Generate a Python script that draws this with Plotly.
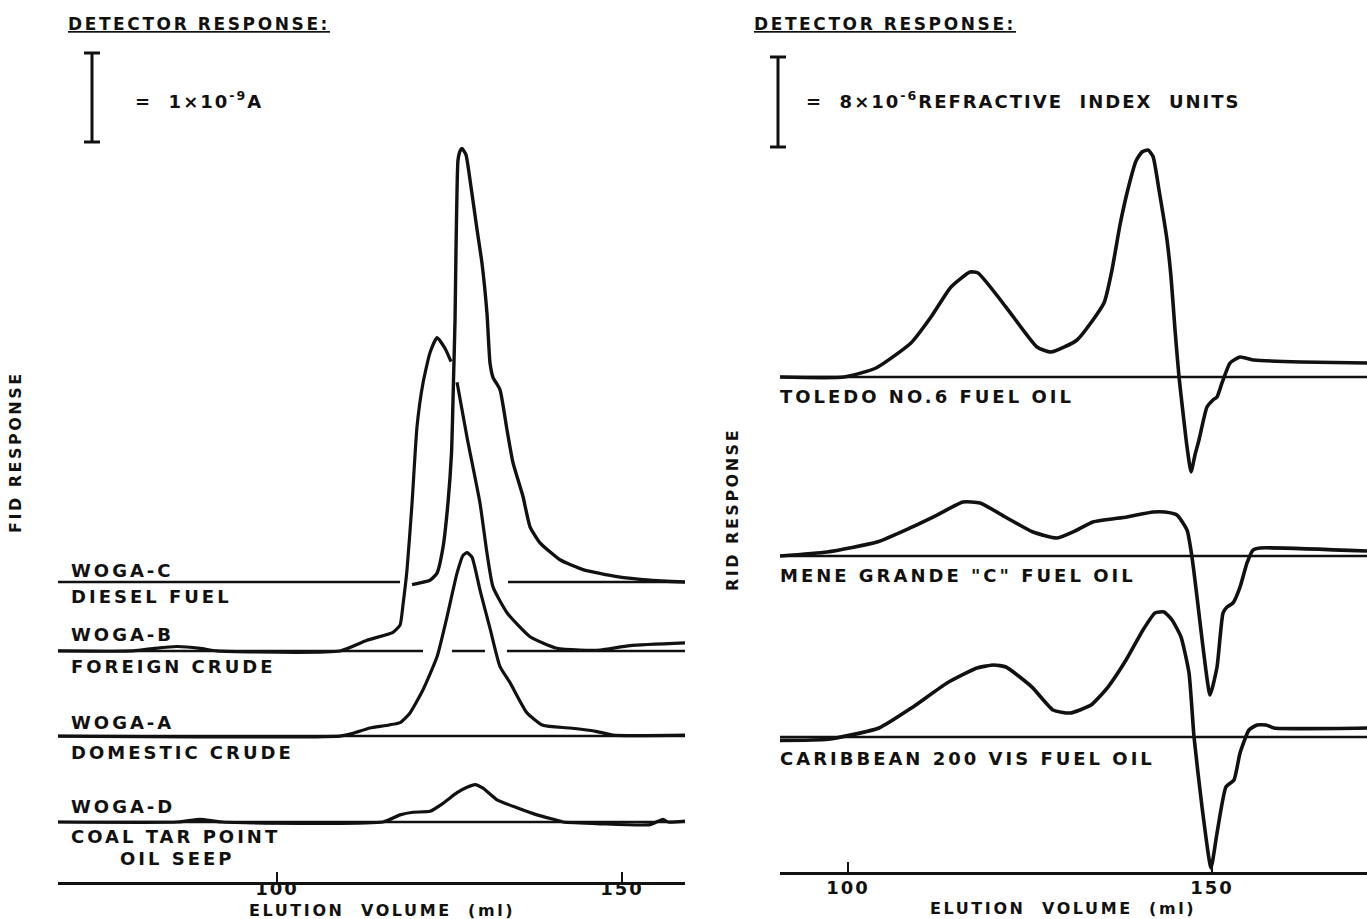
import plotly.graph_objects as go

# ---------------- DATA (elution volume in ml, detector response) ----------------
# Left panel: FID response in nA (1e-9 A) relative to each trace's baseline
WOGA_C_X = [119.57, 122.17, 123.19, 124.06, 124.78, 125.29, 125.58, 125.80, 125.94, 126.09, 126.23,
            126.52, 126.81, 127.39, 127.97, 128.99, 129.71, 130.43, 130.87, 131.30, 132.32, 133.33,
            134.20, 135.65, 136.67, 138.12, 141.01, 144.35, 149.28, 154.06, 159.13]
WOGA_C_Y = [-0.03, 0.02, 0.10, 0.39, 0.89, 1.45, 2.27, 2.94, 3.73, 4.40, 4.74,
            4.84, 4.87, 4.80, 4.52, 3.96, 3.58, 3.02, 2.46, 2.30, 2.16, 1.71,
            1.34, 0.96, 0.62, 0.44, 0.25, 0.14, 0.06, 0.02, 0.0]

WOGA_B_X = [68.26, 79.13, 82.32, 85.51, 88.84, 91.30, 109.13, 113.04, 116.81, 117.83, 118.26, 118.84,
            119.57, 120.29, 121.16, 122.17, 123.19, 124.35, 125.22, None,
            126.09, 127.54, 129.42, 130.43, 131.30, 133.33, 136.67, 140.58, 143.91, 146.81, 151.16, 159.13]
WOGA_B_Y = [0, 0, 0.03, 0.05, 0.03, 0, 0, 0.12, 0.21, 0.29, 0.52, 0.91,
            1.66, 2.52, 3.01, 3.35, 3.52, 3.40, 3.25, None,
            3.02, 2.40, 1.66, 1.10, 0.72, 0.43, 0.16, 0.03, 0.01, 0.01, 0.06, 0.09]

WOGA_A_X = [68.26, 109.13, 111.01, 113.48, 117.83, 119.28, 121.16, 123.19, 124.64, 126.09, 126.96,
            127.54, 128.26, 129.42, 130.87, 132.32, 133.77, 136.23, 138.55, 142.46, 146.38, 148.70, 159.13]
WOGA_A_Y = [0, 0, 0.03, 0.09, 0.15, 0.26, 0.52, 0.89, 1.34, 1.83, 2.03,
            2.06, 2.01, 1.64, 1.21, 0.78, 0.60, 0.26, 0.12, 0.09, 0.05, 0.01, 0.01]

WOGA_D_X = [68.26, 85.65, 88.84, 92.03, 115.36, 117.83, 119.71, 122.17, 124.06, 126.09, 127.54, 128.70,
            129.86, 131.88, 134.78, 137.68, 140.58, 141.45, 146.81, 154.06, 155.94, 156.67, 159.13]
WOGA_D_Y = [0, 0, 0.03, 0, 0, 0.08, 0.11, 0.12, 0.21, 0.33, 0.39, 0.42,
            0.38, 0.25, 0.16, 0.08, 0.02, 0, -0.02, -0.03, 0.03, 0, 0.01]

# Right panel: RID response in 1e-6 refractive index units relative to baseline
TOLEDO_X = [90.66, 99.45, 103.85, 108.65, 111.40, 114.15, 116.76, 117.86, 121.70, 125.96, 127.88,
            131.46, 135.16, 136.26, 137.36, 138.46, 139.56, 140.38, 141.21, 141.90, 142.72,
            143.82, 144.37, 144.92, 145.47, 146.02, 146.57, 147.12, 147.66, 148.21, 149.31, 150.14,
            150.69, 151.37, 152.47, 153.85, 155.77, 162.23, 171.29]
TOLEDO_Y = [0, 0, 0.80, 3.02, 5.33, 8.00, 9.33, 9.24, 6.22, 2.67, 2.22,
            3.29, 6.58, 9.51, 13.51, 16.71, 19.20, 20.00, 20.18, 19.60, 16.62,
            12.18, 8.89, 4.18, 0, -3.20, -6.22, -8.44, -6.93, -5.60, -2.67, -2.04,
            -1.78, -0.53, 1.24, 1.78, 1.51, 1.33, 1.24]

MENE_X = [90.66, 97.12, 103.98, 108.52, 112.23, 115.80, 118.13, 121.84, 125.41, 128.71, 131.46,
          133.65, 138.32, 141.90, 143.54, 145.19, 146.57, 147.25, 147.94, 148.76, 149.73, 150.69,
          151.51, 152.06, 152.88, 153.85, 154.81, 155.63, 156.59, 171.29]
MENE_Y = [0, 0.36, 1.24, 2.49, 3.64, 4.80, 4.71, 3.38, 2.13, 1.60, 2.31,
          3.02, 3.47, 3.91, 3.91, 3.64, 2.31, -0.09, -3.64, -8.09, -12.36, -9.87,
          -5.07, -4.53, -4.18, -2.76, -0.62, 0.53, 0.71, 0.44]

CARIB_X = [90.66, 97.25, 104.26, 108.93, 113.60, 117.72, 120.05, 121.70, 125.27, 128.16, 130.49,
           133.38, 135.71, 138.19, 140.52, 142.17, 143.41, 144.51, 145.74, 146.84, 147.53, 148.63,
           149.86, 150.69, 151.92, 153.02, 153.85, 155.08, 156.18, 157.42, 158.52, 171.29]
CARIB_Y = [-0.3, -0.2, 0.80, 2.67, 4.80, 6.13, 6.40, 6.22, 4.44, 2.40, 2.13,
           2.84, 4.44, 6.84, 9.51, 11.02, 11.11, 10.40, 8.89, 5.69, 0, -6.22,
           -11.64, -8.53, -4.44, -3.82, -1.42, 0.62, 1.07, 1.07, 0.80, 0.80]

# baseline segments (ml) drawn under each trace
LEFT_BASE_SEGS = {
    "C": [(68.26, 117.83), (133.48, 159.13)],
    "B": [(68.26, 121.16), (125.36, 130.14), (133.33, 159.13)],
    "A": [(68.26, 159.13)],
    "D": [(68.26, 159.13)],
}
RIGHT_BASE_SEG = (90.66, 171.29)

TICK_VALS = [100, 150]
TICK_TEXT = ["100", "150"]

SCALE_LEFT = 1.0    # 1 x 10^-9 A
SCALE_RIGHT = 8.0   # 8 x 10^-6 RIU

# ---------------- LAYOUT CONSTANTS ----------------
W, H = 1367, 919
FONT = "DejaVu Sans"
INK = "#111111"

# vertical stacking offsets of each trace's baseline (in response units)
OFF = {"C": 3.371, "B": 2.596, "A": 1.640, "D": 0.674}
ROFF = {"T": 44.0, "M": 28.09, "K": 12.0}


def sp(text, s=3, extra=""):
    return f'<span style="letter-spacing:{s}px;{extra}">{text}</span>'


fig = go.Figure()


def add_line(x, y, off, xa, ya, width=3.0):
    yy = [None if v is None else v + off for v in y]
    fig.add_trace(go.Scatter(x=x, y=yy, mode="lines", xaxis=xa, yaxis=ya,
                             line=dict(color=INK, width=width, shape="spline", smoothing=0.5),
                             connectgaps=False, hoverinfo="skip", showlegend=False))


def add_seg(x0, x1, off, xa, ya, width=2.6):
    fig.add_trace(go.Scatter(x=[x0, x1], y=[off, off], mode="lines", xaxis=xa, yaxis=ya,
                             line=dict(color=INK, width=width), hoverinfo="skip", showlegend=False))


# left baselines
for k, segs in LEFT_BASE_SEGS.items():
    for a, b in segs:
        add_seg(a, b, OFF[k], "x", "y")
# left traces
add_line(WOGA_C_X, WOGA_C_Y, OFF["C"], "x", "y", 3.4)
add_line(WOGA_B_X, WOGA_B_Y, OFF["B"], "x", "y", 3.2)
add_line(WOGA_A_X, WOGA_A_Y, OFF["A"], "x", "y", 3.2)
add_line(WOGA_D_X, WOGA_D_Y, OFF["D"], "x", "y", 3.2)

# right baselines
for k in ROFF:
    add_seg(RIGHT_BASE_SEG[0], RIGHT_BASE_SEG[1], ROFF[k], "x2", "y2")
add_line(TOLEDO_X, TOLEDO_Y, ROFF["T"], "x2", "y2", 3.6)
add_line(MENE_X, MENE_Y, ROFF["M"], "x2", "y2", 3.6)
add_line(CARIB_X, CARIB_Y, ROFF["K"], "x2", "y2", 3.6)


# pixel -> paper helpers for layout placement
def px(xp):
    return xp / W


def py(yp):
    return (H - yp) / H


def xax(standoff):
    return dict(showline=True, linecolor=INK, linewidth=3, ticks="inside", ticklen=10,
                tickwidth=2, tickcolor=INK, tickvals=TICK_VALS,
                ticktext=[sp(t, 2) for t in TICK_TEXT],
                tickfont=dict(family=FONT, size=18, color=INK, weight="bold"),
                ticklabelstandoff=standoff,
                showgrid=False, zeroline=False, fixedrange=True)


fig.update_layout(
    width=W, height=H, margin=dict(l=0, r=0, t=0, b=0),
    paper_bgcolor="white", plot_bgcolor="white", showlegend=False,
    xaxis=dict(domain=[px(58), px(685)], range=[68.26, 159.13], anchor="y", **xax(-12)),
    yaxis=dict(domain=[py(882), 1], range=[0, 882 / 89], visible=False, fixedrange=True),
    xaxis2=dict(domain=[px(780), 1], range=[90.66, 171.29], anchor="y2", **xax(-3)),
    yaxis2=dict(domain=[py(872), 1], range=[0, 872 / 11.25], visible=False, fixedrange=True),
)

ann = []


def A(text, x, y, xref="paper", yref="paper", xanchor="left", yshift=0, size=18, angle=0):
    ann.append(dict(text=text, x=x, y=y, xref=xref, yref=yref, xanchor=xanchor, yanchor="middle",
                    yshift=yshift, showarrow=False, textangle=angle,
                    font=dict(family=FONT, size=size, color=INK, weight="bold")))


# headers
A(sp("DETECTOR RESPONSE:", 2.6, "text-decoration:underline"), px(66), py(24), size=17)
A(sp("DETECTOR RESPONSE:", 2.6, "text-decoration:underline"), px(752), py(24), size=17)
A(sp("=&nbsp;&nbsp;1×10<sup>-9</sup>A", 2), px(133), py(100))
A(sp("=&nbsp;&nbsp;8×10<sup>-6</sup>REFRACTIVE&nbsp;&nbsp;INDEX&nbsp;&nbsp;UNITS", 2), px(804), py(100))

# y-axis titles
A(sp("FID RESPONSE", 2.5), px(16), py(452), xanchor="center", angle=-90, size=16)
A(sp("RID RESPONSE", 2.5), px(732), py(510), xanchor="center", angle=-90, size=16)

# x-axis titles
A(sp("ELUTION&nbsp;&nbsp;VOLUME&nbsp;&nbsp;(ml)", 2.6), px(382), py(910), xanchor="center", size=16)
A(sp("ELUTION&nbsp;&nbsp;VOLUME&nbsp;&nbsp;(ml)", 2.6), px(1063), py(908), xanchor="center", size=16)

# left trace labels
LX = px(69)
A(sp("WOGA-C"), LX, OFF["C"], yref="y", yshift=11)
A(sp("DIESEL FUEL"), LX, OFF["C"], yref="y", yshift=-15)
A(sp("WOGA-B"), LX, OFF["B"], yref="y", yshift=16)
A(sp("FOREIGN CRUDE"), LX, OFF["B"], yref="y", yshift=-16)
A(sp("WOGA-A"), LX, OFF["A"], yref="y", yshift=14)
A(sp("DOMESTIC CRUDE"), LX, OFF["A"], yref="y", yshift=-16)
A(sp("WOGA-D"), LX, OFF["D"], yref="y", yshift=16)
A(sp("COAL TAR POINT"), LX, OFF["D"], yref="y", yshift=-14)
A(sp("OIL SEEP"), px(118), OFF["D"], yref="y", yshift=-36)

# right trace labels
RX = px(778)
A(sp("TOLEDO NO.6 FUEL OIL"), RX, ROFF["T"], yref="y2", yshift=-19)
A(sp("MENE GRANDE \"C\" FUEL OIL"), RX, ROFF["M"], yref="y2", yshift=-20)
A(sp("CARIBBEAN 200 VIS FUEL OIL"), RX, ROFF["K"], yref="y2", yshift=-21)

fig.update_layout(annotations=ann)

# scale bars (length = one scale unit in data units)
shapes = []


def bar(xp, yref, y0, length):
    xc = px(xp)
    hw = 8 / W
    shapes.append(dict(type="line", xref="paper", yref=yref, x0=xc, x1=xc, y0=y0, y1=y0 + length,
                       line=dict(color=INK, width=3)))
    for yy in (y0, y0 + length):
        shapes.append(dict(type="line", xref="paper", yref=yref, x0=xc - hw, x1=xc + hw, y0=yy, y1=yy,
                           line=dict(color=INK, width=3)))


bar(92, "y", (882 - 142) / 89, SCALE_LEFT)
bar(778, "y2", (872 - 147) / 11.25, SCALE_RIGHT)
fig.update_layout(shapes=shapes)

fig.write_html("out.html", config={"displayModeBar": False, "staticPlot": True},
               post_script="document.body.style.margin='0';document.body.style.overflow='hidden';")
